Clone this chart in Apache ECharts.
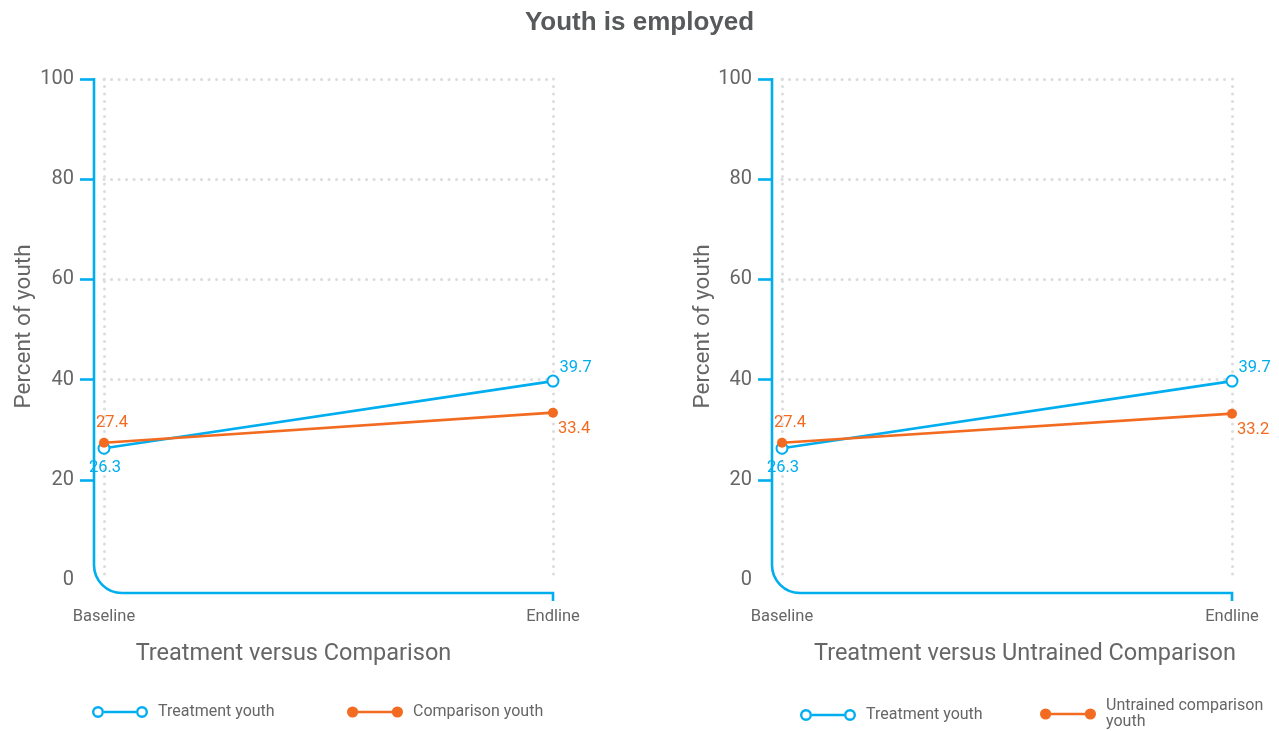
<!DOCTYPE html>
<html>
<head>
<meta charset="utf-8">
<title>Youth is employed</title>
<script src="https://cdn.jsdelivr.net/npm/echarts@6/dist/echarts.min.js"></script>
<style>
  html, body { margin: 0; padding: 0; background: #fff; }
  #chart { width: 1279px; height: 731px; }
</style>
</head>
<body>
<div id="chart"></div>
<script>
// Employment rate of youth (%), baseline vs endline
const categories = ['Baseline', 'Endline'];
const treatmentYouth = [26.3, 39.7];
const comparisonYouth = [27.4, 33.4];
const treatmentYouthB = [26.3, 39.7];
const untrainedComparisonYouth = [27.4, 33.2];
const yTickValues = [0, 20, 40, 60, 80, 100];

const BLUE = '#00aeef';
const ORANGE = '#f26b21';
const GREY = '#666666';
const FONT = 'Roboto, "Liberation Sans", Arial, sans-serif';

// Legend icons: a short line ending in two markers
const ICON_HOLLOW = 'path://M0,6A6,6 0 1,1 12,6A6,6 0 1,1 0,6ZM2.4,6A3.6,3.6 0 1,0 9.6,6A3.6,3.6 0 1,0 2.4,6ZM44,6A6,6 0 1,1 56,6A6,6 0 1,1 44,6ZM46.4,6A3.6,3.6 0 1,0 53.6,6A3.6,3.6 0 1,0 46.4,6ZM12,4.8L44,4.8L44,7.3L12,7.3Z';
const ICON_FILLED = 'path://M0.5,6A5.5,5.5 0 1,1 11.5,6A5.5,5.5 0 1,1 0.5,6ZM44.5,6A5.5,5.5 0 1,1 55.5,6A5.5,5.5 0 1,1 44.5,6ZM11,4.8L45,4.8L45,7.3L11,7.3Z';

const grids = [
  { left: 104, top: 79, width: 449, height: 501 },
  { left: 782, top: 79, width: 450, height: 501 }
];

const DOTS = { color: '#dcdcdc', width: 3, type: [0.1, 7.4], cap: 'round' };

function xAxisFor(gi, title, namePadding) {
  return {
    type: 'category', gridIndex: gi, data: categories, boundaryGap: false,
    offset: 13,
    axisLine: { show: false }, axisTick: { show: false },
    axisLabel: { color: GREY, fontSize: 16.5, fontFamily: FONT, margin: 15 },
    splitLine: { show: true, lineStyle: DOTS },
    name: title, nameLocation: 'middle', nameGap: 49,
    nameTextStyle: { color: GREY, fontSize: 23.5, fontFamily: FONT, padding: namePadding }
  };
}

function yAxisFor(gi, nameGap) {
  return {
    type: 'value', gridIndex: gi, min: 0, max: 100, interval: 20,
    offset: 10,
    axisLine: { show: false },
    axisTick: { show: true, length: 14, customValues: yTickValues.filter(v => v > 0),
                lineStyle: { color: BLUE, width: 2.6 } },
    axisLabel: { color: GREY, fontSize: 20, fontFamily: FONT, margin: 20 },
    splitLine: { show: true, showMinLine: false, lineStyle: DOTS },
    name: 'Percent of youth', nameLocation: 'middle', nameGap: nameGap, nameRotate: 90,
    nameTextStyle: { color: GREY, fontSize: 22.5, fontFamily: FONT, padding: [0, 0, 0, 6] }
  };
}

// Baseline labels: treatment below, comparison above; endline labels to the right
function labelled(values, isTreatment) {
  return values.map((v, i) => {
    let label;
    if (i === 0) {
      label = isTreatment
        ? { position: 'bottom', distance: 5, offset: [1, 0] }
        : { position: 'top', distance: 6, offset: [8, 0] };
    } else {
      label = isTreatment
        ? { position: 'right', distance: 0, offset: [0, -13] }
        : { position: 'right', distance: 0, offset: [0, 16] };
    }
    return { value: v, label: label };
  });
}

function treatmentSeries(gi, values) {
  return {
    name: 'Treatment youth', type: 'line', xAxisIndex: gi, yAxisIndex: gi,
    data: labelled(values, true),
    color: BLUE, symbol: 'emptyCircle', symbolSize: 11,
    itemStyle: { borderWidth: 2.5 },
    lineStyle: { width: 2.6, color: BLUE },
    label: { show: true, color: BLUE, fontSize: 16.5, fontFamily: FONT },
    emphasis: { disabled: true }, z: 3
  };
}

function comparisonSeries(gi, name, values) {
  return {
    name: name, type: 'line', xAxisIndex: gi, yAxisIndex: gi,
    data: labelled(values, false),
    color: ORANGE, symbol: 'circle', symbolSize: 10,
    lineStyle: { width: 2.6, color: ORANGE },
    label: { show: true, color: ORANGE, fontSize: 16.5, fontFamily: FONT },
    emphasis: { disabled: true }, z: 4
  };
}

function legendItem(name, icon, left, top) {
  return {
    data: [name], icon: icon, left: left, top: top,
    padding: 0,
    itemWidth: 56, itemHeight: 12, itemGap: 0,
    itemStyle: { borderWidth: 0 },
    selectedMode: false,
    textStyle: { color: GREY, fontSize: 16, fontFamily: FONT, padding: [0, 0, 0, 5] },
    formatter: n => n === 'Untrained comparison youth' ? 'Untrained comparison\nyouth' : n
  };
}

const chart = echarts.init(document.getElementById('chart'), null, { renderer: 'canvas' });

chart.setOption({
  animation: false,
  backgroundColor: '#ffffff',
  title: {
    text: 'Youth is employed', left: 'center', top: 5,
    textStyle: { color: '#58595b', fontSize: 26, fontWeight: 'bold', fontFamily: '"Liberation Sans", Arial, sans-serif' }
  },
  grid: grids,
  xAxis: [
    xAxisFor(0, 'Treatment versus Comparison', [0, 70, 0, 0]),
    xAxisFor(1, 'Treatment versus Untrained Comparison', [0, 0, 0, 36])
  ],
  yAxis: [yAxisFor(0, 58), yAxisFor(1, 48)],
  legend: [
    legendItem('Treatment youth', ICON_HOLLOW, 92, 704),
    legendItem('Comparison youth', ICON_FILLED, 347, 704),
    legendItem('Treatment youth', ICON_HOLLOW, 800, 707),
    legendItem('Untrained comparison youth', ICON_FILLED, 1040, 698)
  ],
  series: [
    treatmentSeries(0, treatmentYouth),
    comparisonSeries(0, 'Comparison youth', comparisonYouth),
    treatmentSeries(1, treatmentYouthB),
    comparisonSeries(1, 'Untrained comparison youth', untrainedComparisonYouth)
  ]
});

// Blue axis frame: vertical axis that bends into the offset baseline with a rounded corner
function axisFrame(gi) {
  const finder = { xAxisIndex: gi, yAxisIndex: gi };
  const pTop = chart.convertToPixel(finder, [categories[0], 100]);
  const pZero = chart.convertToPixel(finder, [categories[0], 0]);
  const pEnd = chart.convertToPixel(finder, [categories[categories.length - 1], 0]);
  const x0 = pTop[0] - 10;
  const yB = pZero[1] + 13;
  const r = 28;
  const stroke = { stroke: BLUE, lineWidth: 2.6, fill: null };
  return [
    { type: 'polyline', silent: true, z: 2,
      shape: { points: [[x0, pTop[1] - 1], [x0, yB - r]] }, style: stroke },
    { type: 'arc', silent: true, z: 2,
      shape: { cx: x0 + r, cy: yB - r, r: r, startAngle: Math.PI / 2, endAngle: Math.PI, clockwise: true },
      style: stroke },
    { type: 'polyline', silent: true, z: 2,
      shape: { points: [[x0 + r, yB], [pEnd[0], yB], [pEnd[0], yB + 8]] }, style: stroke }
  ];
}

chart.setOption({ graphic: axisFrame(0).concat(axisFrame(1)) });
</script>
</body>
</html>
